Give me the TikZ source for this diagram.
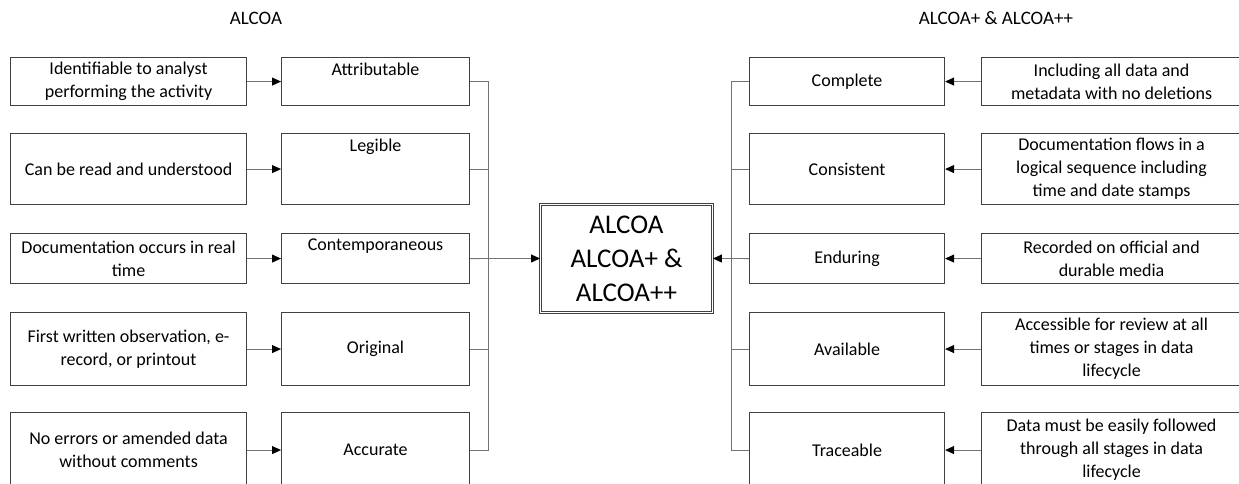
\documentclass[tikz,border=0pt]{standalone}
\usepackage{fontspec}
\setmainfont{Carlito}
\usetikzlibrary{arrows.meta}

\tikzset{
    box/.style={draw=black!75, line width=1.1pt, anchor=north west, align=center, inner sep=2pt, font=\fontsize{18}{23}\selectfont},
    descbox/.style={box, minimum width=236pt},
    leftbox/.style={box, minimum width=188pt},
    rightbox/.style={box, minimum width=195pt},
    infobox/.style={box, minimum width=260pt},
    toplabel/.style={anchor=north, inner sep=2pt, yshift=-4pt, font=\fontsize{18}{23}\selectfont},
    conn/.style={draw=black!55, line width=0.9pt},
    arr/.style={conn, -{Triangle[length=9pt,width=8pt,fill=black,color=black]}},
}

\begin{document}
\begin{tikzpicture}[x=1pt,y=-1pt]
        \clip (0,0) rectangle (1239,483);
        \fill[white] (0,0) rectangle (1239,483);
        \node[font=\fontsize{19}{22}\selectfont] (ttl) at (256,18) {ALCOA};
        \node[font=\fontsize{19}{22}\selectfont] (ttr) at (996,18) {ALCOA+ \& ALCOA++};

        \node[draw=black!75, double, double distance=1.6pt, line width=0.9pt, minimum width=172pt, minimum height=108pt, align=center, font=\fontsize{27}{34}\selectfont] (hub) at (626.5,258.5) {ALCOA\\ALCOA+ \&\\ALCOA++};

        % ALCOA side
        \node[descbox, minimum height=48pt] (d1) at (10,57) {Identifiable to analyst\\performing the activity};
        \node[descbox, minimum height=71pt] (d2) at (10,133) {Can be read and understood};
        \node[descbox, minimum height=50pt] (d3) at (10,233) {Documentation occurs in real\\time};
        \node[descbox, minimum height=73pt] (d4) at (10,312) {First written observation, e-\\record, or printout};
        \node[descbox, minimum height=75pt] (d5) at (10,412) {No errors or amended data\\without comments};

        \node[leftbox, minimum height=48pt, label={[toplabel]north:Attributable}] (p1) at (281,57) {};
        \node[leftbox, minimum height=71pt, label={[toplabel]north:Legible}] (p2) at (281,133) {};
        \node[leftbox, minimum height=50pt, label={[toplabel]north:Contemporaneous}] (p3) at (281,233) {};
        \node[leftbox, minimum height=73pt] (p4) at (281,312) {Original};
        \node[leftbox, minimum height=75pt] (p5) at (281,412) {Accurate};

        \draw[arr] (d1.east) -- (p1.west);
        \draw[arr] (d2.east) -- (p2.west);
        \draw[arr] (d3.east) -- (p3.west);
        \draw[arr] (d4.east) -- (p4.west);
        \draw[arr] (d5.east) -- (p5.west);

        \draw[conn] (p1.east) -- ++(18,0) |- (p5.east);
        \draw[conn] (p2.east) -- ++(18,0);
        \draw[conn] (p4.east) -- ++(18,0);
        \draw[arr] (p3.east) -- (hub.west);

        % ALCOA+ & ALCOA++ side
        \node[rightbox, minimum height=48pt] (q1) at (749,57) {Complete};
        \node[rightbox, minimum height=71pt] (q2) at (749,133) {Consistent};
        \node[rightbox, minimum height=50pt] (q3) at (749,233) {Enduring};
        \node[rightbox, minimum height=73pt] (q4) at (749,312) {Available};
        \node[rightbox, minimum height=75pt] (q5) at (749,412) {Traceable};

        \node[infobox, minimum height=48pt] (r1) at (981,57) {Including all data and\\metadata with no deletions};
        \node[infobox, minimum height=71pt] (r2) at (981,133) {Documentation flows in a\\logical sequence including\\time and date stamps};
        \node[infobox, minimum height=50pt] (r3) at (981,233) {Recorded on official and\\durable media};
        \node[infobox, minimum height=73pt] (r4) at (981,312) {Accessible for review at all\\times or stages in data\\lifecycle};
        \node[infobox, minimum height=75pt] (r5) at (981,412) {Data must be easily followed\\through all stages in data\\lifecycle};

        \draw[arr] (r1.west) -- (q1.east);
        \draw[arr] (r2.west) -- (q2.east);
        \draw[arr] (r3.west) -- (q3.east);
        \draw[arr] (r4.west) -- (q4.east);
        \draw[arr] (r5.west) -- (q5.east);

        \draw[conn] (q1.west) -- ++(-18,0) |- (q5.west);
        \draw[conn] (q2.west) -- ++(-18,0);
        \draw[conn] (q4.west) -- ++(-18,0);
        \draw[arr] (q3.west) -- (hub.east);
    \end{tikzpicture}
\end{document}
